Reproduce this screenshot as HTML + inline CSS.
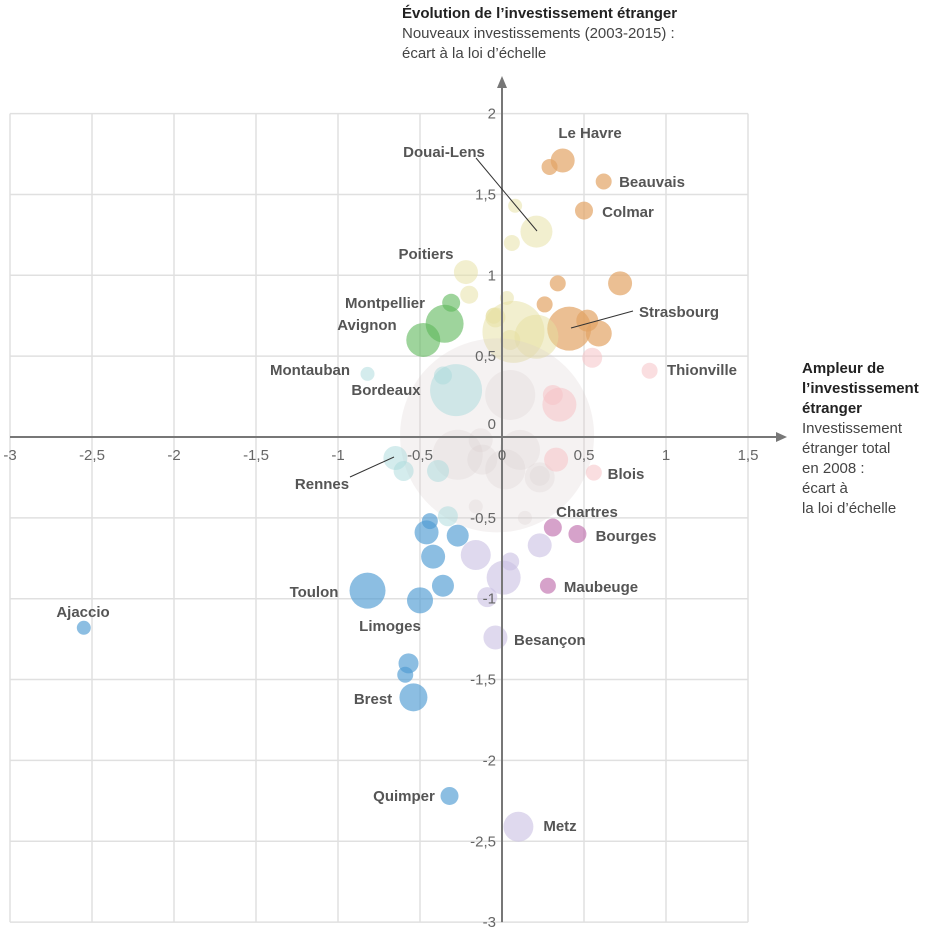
<!DOCTYPE html>
<html><head><meta charset="utf-8">
<style>
body{margin:0;background:#fff;}
svg text{font-family:"Liberation Sans",sans-serif;}
.tk{font-size:15px;fill:#666;}
.lb{font-size:15px;font-weight:bold;fill:#555;}
</style></head>
<body>
<svg id="chart" width="935" height="930" viewBox="0 0 935 930" xmlns="http://www.w3.org/2000/svg">
<g id="grid"></g>
<g id="bubbles"></g>
<g id="axes"></g>
<g id="labels"></g>
<text x="402" y="18" style="font-size:15px;font-weight:bold;fill:#222">Évolution de l’investissement étranger</text>
<text x="402" y="38" style="font-size:15px;fill:#444">Nouveaux investissements (2003-2015) :</text>
<text x="402" y="58" style="font-size:15px;fill:#444">écart à la loi d’échelle</text>
<g>
<text x="802" y="373" style="font-size:15px;font-weight:bold;fill:#222">Ampleur de</text>
<text x="802" y="393" style="font-size:15px;font-weight:bold;fill:#222">l’investissement</text>
<text x="802" y="413" style="font-size:15px;font-weight:bold;fill:#222">étranger</text>
<text x="802" y="433" style="font-size:15px;fill:#444">Investissement</text>
<text x="802" y="453" style="font-size:15px;fill:#444">étranger total</text>
<text x="802" y="473" style="font-size:15px;fill:#444">en 2008 :</text>
<text x="802" y="493" style="font-size:15px;fill:#444">écart à</text>
<text x="802" y="513" style="font-size:15px;fill:#444">la loi d’échelle</text>
</g>
</svg>
<script>
const xTicks=[-3,-2.5,-2,-1.5,-1,-0.5,0,0.5,1,1.5];
const yTicks=[2,1.5,1,0.5,0,-0.5,-1,-1.5,-2,-2.5,-3];
const tickFmt=v=>String(v).replace('.',',');
// bubble data: x, y (écarts), weight, group
const bx=[0.37,0.29,0.62,0.50,0.34,0.72,0.26,0.41,0.52,0.59,
0.08,0.21,0.06,-0.22,-0.20,0.03,-0.05,0.07,0.21,-0.04,0.05,
-0.31,-0.35,-0.48,
-0.03,-0.27,-0.13,0.11,-0.12,0.02,0.23,0.23,-0.16,0.14,0.05,
0.55,0.90,0.31,0.35,0.33,0.56,
-0.82,-0.28,-0.36,-0.65,-0.60,-0.39,-0.33,
-0.44,-0.46,-0.27,-0.42,-0.82,-0.36,-0.50,-2.55,-0.57,-0.59,-0.54,-0.32,
-0.16,0.05,0.23,0.01,-0.09,-0.04,0.10,
0.31,0.46,0.28];
const by=[1.71,1.67,1.58,1.40,0.95,0.95,0.82,0.67,0.72,0.64,
1.43,1.27,1.20,1.02,0.88,0.86,0.75,0.65,0.62,0.74,0.60,
0.83,0.70,0.60,
0.01,-0.11,-0.02,-0.08,-0.14,-0.20,-0.25,-0.24,-0.43,-0.50,0.26,
0.49,0.41,0.26,0.20,-0.14,-0.22,
0.39,0.29,0.38,-0.13,-0.21,-0.21,-0.49,
-0.52,-0.59,-0.61,-0.74,-0.95,-0.92,-1.01,-1.18,-1.40,-1.47,-1.61,-2.22,
-0.73,-0.77,-0.67,-0.87,-0.99,-1.24,-2.41,
-0.56,-0.60,-0.92];
const bw=[12,8,8,9,8,12,8,22,11,13,
7,16,8,12,9,7,8,31,22,10,10,
9,19,17,
97,25,12,20,15,20,15,10,7,7,25,
10,8,10,17,12,8,
7,26,9,12,10,11,10,
8,12,11,12,18,11,13,7,10,8,14,9,
15,9,12,17,10,12,15,
9,9,8];
const bg=['o','o','o','o','o','o','o','o','o','o',
'y','y','y','y','y','y','y','y','y','y','y',
'g','g','g',
'r','r','r','r','r','r','r','r','r','r','r',
'p','p','p','p','p','p',
't','t','t','t','t','t','t',
'b','b','b','b','b','b','b','b','b','b','b','b',
'l','l','l','l','l','l','l',
'm','m','m'];
const colors={o:['#e2a465',0.7],y:['#e6e0a0',0.5],g:['#5db85a',0.6],r:['#d9cccc',0.25],p:['#f5c2c6',0.55],t:['#a9dadb',0.5],b:['#4f9bd2',0.65],l:['#c9c0e2',0.6],m:['#c070ad',0.65]};
const cityNames=['Le Havre','Douai-Lens','Beauvais','Colmar','Poitiers','Montpellier','Avignon','Strasbourg','Montauban','Thionville','Bordeaux','Rennes','Blois','Chartres','Bourges','Maubeuge','Toulon','Ajaccio','Limoges','Besançon','Brest','Quimper','Metz'];
const cityLX=[590,444,652,628,426,385,367,679,310,702,386,322,626,587,626,601,314,83,390,514,373,404,560];
const cityLY=[133,152,182,212,254,303,325,312,370,370,390,484,474,512,536,587,592,612,626,640,699,796,826];
const cityAnchor=['middle','middle','middle','middle','middle','middle','middle','middle','middle','middle','middle','middle','middle','middle','middle','middle','middle','middle','middle','start','middle','middle','middle'];

const X=v=>502+v*164, Y=v=>437-v*161.7;
const NS='http://www.w3.org/2000/svg';
function mk(t,a,p){const e=document.createElementNS(NS,t);for(const k in a)e.setAttribute(k,a[k]);p.appendChild(e);return e;}
const grid=document.getElementById('grid');
xTicks.forEach(v=>{const l=mk('line',{x1:X(v),x2:X(v),y1:Y(2),y2:Y(-3),stroke:'#e0e0e0','stroke-width':1.5},grid);

});
yTicks.forEach(v=>{const l=mk('line',{x1:X(-3),x2:X(1.5),y1:Y(v),y2:Y(v),stroke:'#e0e0e0','stroke-width':1.5},grid);

});
const bub=document.getElementById('bubbles');
for(let i=0;i<bx.length;i++){const c=colors[bg[i]];
const e=mk('circle',{cx:X(bx[i]),cy:Y(by[i]),r:bw[i],fill:c[0],'fill-opacity':c[1]},bub);

}
const ax=document.getElementById('axes');
mk('line',{x1:X(-3),x2:780,y1:Y(0),y2:Y(0),stroke:'#777','stroke-width':2},ax);
mk('path',{d:`M787 ${Y(0)} L776 ${Y(0)-5} L776 ${Y(0)+5}Z`,fill:'#777'},ax);
mk('line',{x1:X(0),x2:X(0),y1:Y(-3),y2:84,stroke:'#777','stroke-width':2},ax);
mk('path',{d:`M${X(0)} 76 L${X(0)-5} 88 L${X(0)+5} 88Z`,fill:'#777'},ax);
xTicks.forEach(v=>{const t=mk('text',{x:X(v),y:Y(0)+23,'text-anchor':'middle',class:'tk'},ax);t.textContent=tickFmt(v);

});
yTicks.forEach(v=>{if(v===0)return;const t=mk('text',{x:X(0)-6,y:Y(v)+5,'text-anchor':'end',class:'tk'},ax);t.textContent=tickFmt(v);

});
{const t=mk('text',{x:X(0)-6,y:Y(0)-8,'text-anchor':'end',class:'tk'},ax);t.textContent='0';

}
const lab=document.getElementById('labels');
mk('line',{x1:476,y1:158,x2:537,y2:231,stroke:'#333','stroke-width':1},lab);
mk('line',{x1:571,y1:328,x2:633,y2:311,stroke:'#333','stroke-width':1},lab);
mk('line',{x1:350,y1:477,x2:394,y2:457,stroke:'#333','stroke-width':1},lab);
cityNames.forEach((n,i)=>{const t=mk('text',{x:cityLX[i],y:cityLY[i]+5,'text-anchor':cityAnchor[i],class:'lb'},lab);t.textContent=n;

});
</script>
</body></html>
